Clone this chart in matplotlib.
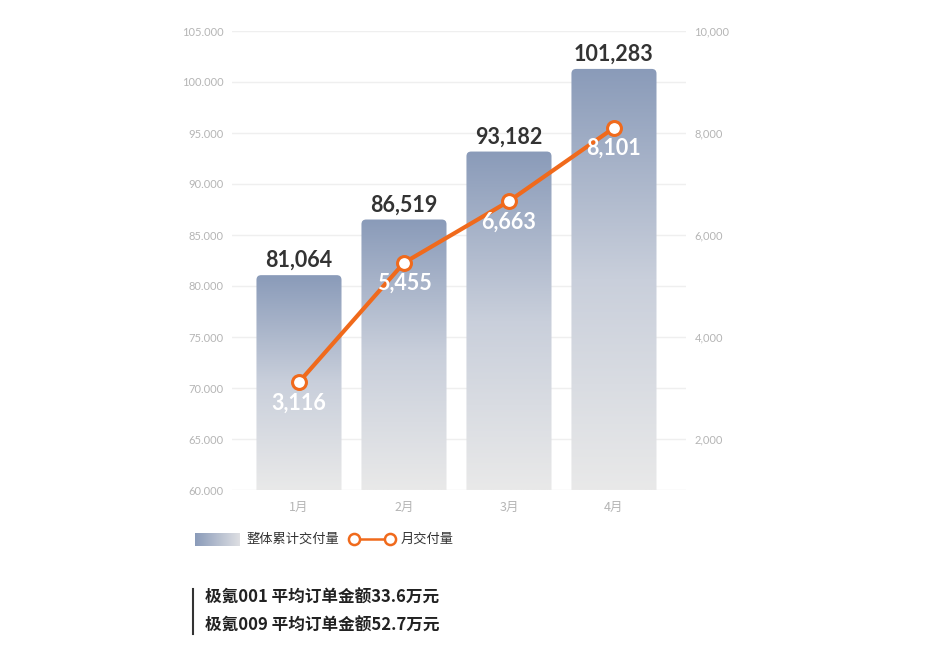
import numpy as np
import matplotlib.pyplot as plt
from matplotlib.patches import FancyBboxPatch
from matplotlib.colors import LinearSegmentedColormap
from matplotlib.lines import Line2D

plt.rcParams['font.family'] = ['Lato', 'Noto Sans CJK SC', 'DejaVu Sans']

months = ['1月', '2月', '3月', '4月']
total = [81064, 86519, 93182, 101283]     # 整体累计交付量 (left axis)
monthly = [3116, 5455, 6663, 8101]        # 月交付量 (right axis)
left_ticks = [60000, 65000, 70000, 75000, 80000, 85000, 90000, 95000, 100000, 105000]
right_ticks = [2000, 4000, 6000, 8000, 10000]
notes = ['极氪001 平均订单金额33.6万元', '极氪009 平均订单金额52.7万元']

bar_top = '#8a9bb9'
bar_bot = '#e9e9e9'
orange = '#f06a1c'
grey_txt = '#b5b5b5'

cmap = LinearSegmentedColormap.from_list('bar', [bar_bot, '#c9cfdb', bar_top])
grad = np.linspace(0, 1, 256).reshape(-1, 1)

fig = plt.figure(figsize=(9.33, 6.52), dpi=100, facecolor='white')
ax = fig.add_axes([232 / 933, 1 - 490 / 652, 454 / 933, 459 / 652])
ax.set_xlim(-0.638, 3.686)
ax.set_ylim(60000, 105000)

# px -> data aspect for rounded corners
asp = (45000 / 459) * 105
w = 0.81
for i, v in enumerate(total):
    x0 = i - w / 2
    patch = FancyBboxPatch((x0, 58000), w, v - 58000,
                           boxstyle='round,pad=0,rounding_size=0.045',
                           mutation_aspect=asp, facecolor='none',
                           edgecolor='none', zorder=2)
    ax.add_patch(patch)
    im = ax.imshow(grad, cmap=cmap, aspect='auto', origin='lower',
                   extent=(x0, x0 + w, 60000, v), zorder=2)
    im.set_clip_path(patch)
    ax.annotate(f'{v:,}', (i, v), xytext=(0, 3), textcoords='offset points',
                ha='center', va='bottom', fontsize=15.5, fontweight='bold',
                color='#333333', zorder=5)

ax.set_xticks(range(len(months)))
ax.set_xticklabels(months, family=['Noto Sans CJK SC', 'DejaVu Sans'])
ax.set_yticks(left_ticks)
ax.set_yticklabels([f'{t:,}'.replace(',', '.') for t in left_ticks])
ax.tick_params(axis='both', length=0, labelcolor=grey_txt, labelsize=8)
ax.tick_params(axis='x', pad=8, labelsize=9)
ax.tick_params(axis='y', pad=6)
ax.grid(axis='y', color='#efefef', lw=1)
ax.set_axisbelow(True)
for s in ax.spines.values():
    s.set_visible(False)

ax2 = ax.twinx()
ax2.set_ylim(1000, 10000)
ax2.set_yticks(right_ticks)
ax2.set_yticklabels([f'{t:,}' for t in right_ticks])
ax2.tick_params(axis='y', length=0, labelcolor=grey_txt, labelsize=8, pad=6)
for s in ax2.spines.values():
    s.set_visible(False)
ax2.plot(range(len(monthly)), monthly, color=orange, lw=3, marker='o',
         markersize=10, markerfacecolor='white', markeredgecolor=orange,
         markeredgewidth=2.2, zorder=4)
for i, v in enumerate(monthly):
    ax2.annotate(f'{v:,}', (i, v), xytext=(0, -15), textcoords='offset points',
                 ha='center', va='center', fontsize=15.5, fontweight='bold',
                 color='white', zorder=5)

# legend
lax = fig.add_axes([195 / 933, 1 - 546 / 652, 45 / 933, 13 / 652])
lax.imshow(np.linspace(0, 1, 256).reshape(1, -1), aspect='auto',
           cmap=LinearSegmentedColormap.from_list('lg', [bar_top, '#dedfe3']))
lax.axis('off')
cjk = ['Noto Sans CJK SC', 'DejaVu Sans']
fig.text(246 / 933, 1 - 539 / 652, '整体累计交付量', family=cjk, fontsize=9.5,
         color='#333333', va='center')
fig.add_artist(Line2D([354 / 933, 390 / 933], [1 - 539 / 652] * 2, color=orange,
                      lw=1.8, marker='o', markersize=8, markerfacecolor='white',
                      markeredgecolor=orange, markeredgewidth=1.8))
fig.text(401 / 933, 1 - 539 / 652, '月交付量', family=cjk, fontsize=9.5,
         color='#333333', va='center')

# notes
fig.add_artist(Line2D([193 / 933] * 2, [1 - 589 / 652, 1 - 634 / 652],
                      color='#333333', lw=1.5))
for k, t in enumerate(notes):
    fig.text(205 / 933, 1 - (598 + 28 * k) / 652, t, family=cjk, fontsize=12,
             fontweight='bold', color='#222222', va='center')

fig.savefig('out.png', dpi=100, facecolor='white')
